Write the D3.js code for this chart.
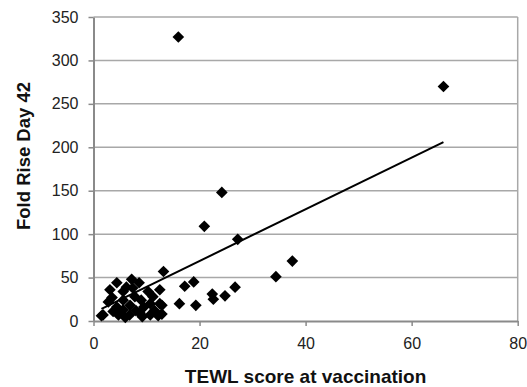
<!DOCTYPE html>
<html><head><meta charset="utf-8">
<script src="https://cdn.jsdelivr.net/npm/d3@7"></script>
<style>html,body{margin:0;padding:0;background:#fff;}svg{display:block;}</style>
</head><body>
<script>
const tewl = [16, 66, 24.2, 20.9, 27.2, 13.2, 34.4, 37.5, 17.2, 18.9, 26.7, 22.4, 22.6, 24.8, 16.2, 19.3,
  1.5, 1.8, 2.8, 3.1, 3.5, 3.7, 4.4, 4.4, 4.7, 5.0, 5.6, 5.6, 5.6, 6.2, 6.8, 6.9, 7.2, 7.4, 7.8, 8.0,
  8.6, 8.8, 9.0, 9.5, 10.3, 10.7, 10.7, 11.5, 12.2, 12.5, 12.5, 12.9, 12.9, 11.2, 9.2, 6.0];
const foldRise = [327, 270, 148, 109, 94, 57, 51, 69, 40, 45, 39, 31, 25, 29, 20, 18,
  6, 7, 22, 36, 27, 11, 44, 16, 7, 10, 34, 24, 13, 39, 7, 18, 48, 38, 28, 12,
  44, 9, 24, 16, 34, 20, 7, 12, 6, 36, 20, 8, 18, 28, 5, 4];
const trendX = [1.5, 66];
const trendY = [14, 206];
const xTicks = [0, 20, 40, 60, 80];
const yTicks = [0, 50, 100, 150, 200, 250, 300, 350];

const W = 527, H = 387;
const m = {left: 93.5, right: 9.3, top: 17, bottom: 66};
const svg = d3.select("body").append("svg").attr("width", W).attr("height", H);
const x = d3.scaleLinear().domain([0, 80]).range([m.left, W - m.right]);
const y = d3.scaleLinear().domain([0, 350]).range([H - m.bottom, m.top]);

// gridlines
svg.append("g").selectAll("line").data(yTicks.filter(v => v > 0)).join("line")
  .attr("x1", x(0)).attr("x2", x(80)).attr("y1", d => y(d)).attr("y2", d => y(d))
  .attr("stroke", "#a8a8a8").attr("stroke-width", 1.5);
// right border
svg.append("line").attr("x1", x(80)).attr("x2", x(80)).attr("y1", y(0)).attr("y2", y(350))
  .attr("stroke", "#a8a8a8").attr("stroke-width", 1.5);

const font = "'Liberation Sans', Arial, sans-serif";
const xAxis = svg.append("g").attr("transform", `translate(0,${y(0)})`)
  .call(d3.axisBottom(x).tickValues(xTicks).tickSize(5).tickSizeOuter(0).tickPadding(12));
const yAxis = svg.append("g").attr("transform", `translate(${x(0)},0)`)
  .call(d3.axisLeft(y).tickValues(yTicks).tickSize(5).tickSizeOuter(0).tickPadding(10));
[xAxis, yAxis].forEach(g => {
  g.select(".domain").attr("stroke", "#8a8a8a").attr("stroke-width", 2);
  g.selectAll(".tick line").attr("stroke", "#8a8a8a").attr("stroke-width", 1.5);
  g.selectAll("text").attr("fill", "#222").style("font-family", font).style("font-size", "16px");
});

// trend line
svg.append("line")
  .attr("x1", x(trendX[0])).attr("y1", y(trendY[0]))
  .attr("x2", x(trendX[1])).attr("y2", y(trendY[1]))
  .attr("stroke", "#000").attr("stroke-width", 2);

// points
const sym = d3.symbol(d3.symbolSquare, 68);
svg.append("g").selectAll("path").data(tewl.map((v, i) => [v, foldRise[i]])).join("path")
  .attr("d", sym)
  .attr("transform", d => `translate(${x(d[0])},${y(d[1])}) rotate(45)`)
  .attr("fill", "#000");

// axis titles
svg.append("text").attr("x", (x(0) + x(80)) / 2).attr("y", 383)
  .attr("text-anchor", "middle").style("font-family", font).style("font-weight", "bold")
  .style("font-size", "19px").attr("fill", "#111").text("TEWL score at vaccination");
svg.append("text").attr("transform", `translate(30,156) rotate(-90)`)
  .attr("text-anchor", "middle").style("font-family", font).style("font-weight", "bold")
  .style("font-size", "18.5px").attr("fill", "#111").text("Fold Rise Day 42");
</script>
</body></html>
